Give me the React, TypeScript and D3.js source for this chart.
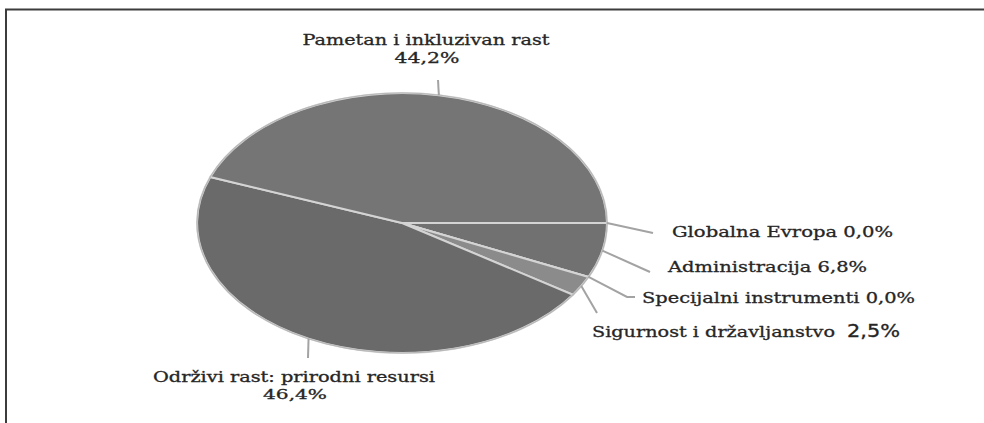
import React from "react";
import * as d3 from "d3";

const categories = [
  "Globalna Evropa",
  "Administracija",
  "Specijalni instrumenti",
  "Sigurnost i državljanstvo",
  "Održivi rast: prirodni resursi",
  "Pametan i inkluzivan rast",
];
const values = [0.0, 6.8, 0.0, 2.5, 46.4, 44.2];
const valueLabels = ["0,0%", "6,8%", "0,0%", "2,5%", "46,4%", "44,2%"];
const sliceColors = ["#727272", "#717171", "#808080", "#8b8b8b", "#6a6a6a", "#757575"];

const W = 984;
const H = 423;
const cx = 402;
const cy = 223;
const rx = 205;
const ry = 130;

type LabelSpec = {
  lines: { text: string; x: number; y: number; len: number; anchor: "start" | "middle"; font?: string; size?: number }[];
  leader: [number, number][];
};

// layout of labels (positions only)
const layout: LabelSpec[] = [
  { lines: [{ text: `${categories[0]} ${valueLabels[0]}`, x: 672, y: 237, len: 221, anchor: "start" }], leader: [[653, 233]] },
  { lines: [{ text: `${categories[1]} ${valueLabels[1]}`, x: 668, y: 272, len: 199, anchor: "start" }], leader: [[650, 272]] },
  { lines: [{ text: `${categories[2]} ${valueLabels[2]}`, x: 642, y: 303, len: 273, anchor: "start" }], leader: [[627, 297], [635, 297]] },
  {
    lines: [
      { text: categories[3], x: 592, y: 337, len: 243, anchor: "start" },
      { text: valueLabels[3], x: 847, y: 337, len: 53, anchor: "start", font: "'DejaVu Sans', sans-serif", size: 17 },
    ],
    leader: [[597, 313]],
  },
  {
    lines: [
      { text: categories[4], x: 294, y: 382, len: 282, anchor: "middle", size: 14 },
      { text: valueLabels[4], x: 295, y: 399, len: 64, anchor: "middle", size: 13 },
    ],
    leader: [[308, 358]],
  },
  {
    lines: [
      { text: categories[5], x: 426, y: 45, len: 247, anchor: "middle" },
      { text: valueLabels[5], x: 427, y: 63, len: 65, anchor: "middle", size: 14 },
    ],
    leader: [[438, 80]],
  },
];

export default function App() {
  const pie = d3
    .pie<number>()
    .sort(null)
    .value((d) => d)
    .startAngle(Math.PI / 2)
    .endAngle(Math.PI / 2 + 2 * Math.PI);
  const arcs = pie(values);
  const arc = d3.arc<d3.PieArcDatum<number>>().innerRadius(0).outerRadius(1);

  const edgePoint = (a: number): [number, number] => [cx + rx * Math.sin(a), cy - ry * Math.cos(a)];

  return (
    <svg
      width={W}
      height={H}
      style={{ position: "absolute", left: 0, top: 0, background: "#fff" }}
    >
      <rect x={0} y={0} width={W} height={H} fill="#fff" />
      {/* frame */}
      <line x1={5} y1={9.5} x2={W} y2={9.5} stroke="#3c3c3c" strokeWidth={2} />
      <line x1={6} y1={9} x2={6} y2={H} stroke="#3c3c3c" strokeWidth={2} />

      <g transform={`translate(${cx},${cy}) scale(${rx},${ry})`}>
        {arcs.map((a, i) => (
          <path
            key={i}
            d={arc(a) || ""}
            fill={sliceColors[i]}
            stroke="#d4d4d4"
            strokeWidth={2}
            vectorEffect="non-scaling-stroke"
          />
        ))}
        <ellipse cx={0} cy={0} rx={1} ry={1} fill="none" stroke="#b8b8b8" strokeWidth={1.2} vectorEffect="non-scaling-stroke" />
      </g>

      {arcs.map((a, i) => {
        const mid = (a.startAngle + a.endAngle) / 2;
        const p0 = edgePoint(mid);
        const pts = [p0, ...layout[i].leader];
        return (
          <polyline
            key={"l" + i}
            points={pts.map((p) => p.join(",")).join(" ")}
            fill="none"
            stroke="#a3a3a3"
            strokeWidth={2}
          />
        );
      })}

      {layout.map((l, i) =>
        l.lines.map((ln, j) => (
          <text
            key={`t${i}-${j}`}
            x={ln.x}
            y={ln.y}
            textAnchor={ln.anchor}
            textLength={ln.len}
            lengthAdjust="spacingAndGlyphs"
            fontFamily={ln.font || "'DejaVu Serif', serif"}
            fontSize={ln.size || 15}
            fill="#262626"
            stroke="#262626"
            strokeWidth={0.3}
          >
            {ln.text}
          </text>
        ))
      )}
    </svg>
  );
}
